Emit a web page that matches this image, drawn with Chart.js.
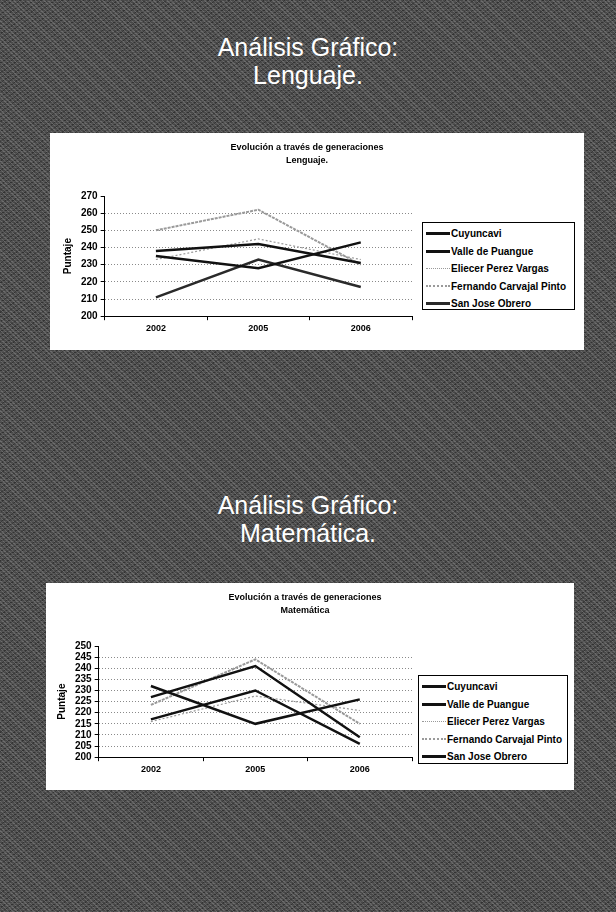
<!DOCTYPE html>
<html>
<head>
<meta charset="utf-8">
<script src="https://cdn.jsdelivr.net/npm/chart.js"></script>
<style>
  html, body { margin: 0; padding: 0; }
  body {
    width: 616px; height: 912px; position: relative; overflow: hidden;
    background-color: #474747;
    background-image:
      repeating-linear-gradient(45deg, rgba(255,255,255,0.14) 0 1px, transparent 1px 3px),
      repeating-linear-gradient(-35deg, rgba(0,0,0,0.3) 0 1px, transparent 1px 4px),
      repeating-linear-gradient(0deg, rgba(255,255,255,0.07) 0 1px, transparent 1px 2px);
  }
  .slideTitle {
    position: absolute; left: 0; width: 616px; text-align: center;
    color: #fff; font-family: "Liberation Sans", Arial, sans-serif;
    font-size: 25px; line-height: 28px;
  }
  .box { position: absolute; background: #fff; }
  .chartTitle {
    position: absolute; text-align: center; color: #000;
    font-family: "Liberation Sans", Arial, sans-serif; font-size: 9px; font-weight: bold;
    line-height: 12.5px;
  }
  .legend {
    position: absolute; border: 1px solid #000; background: #fff;
    font-family: "Liberation Sans", Arial, sans-serif; font-size: 10px; font-weight: bold; color: #000;
    box-sizing: border-box; padding: 2px 0 0 3px;
  }
  .legend .row { height: 17.5px; display: flex; align-items: center; white-space: nowrap; }
  .legend .sample { width: 24px; height: 0; margin-right: 1px; }
</style>
</head>
<body>
<div class="slideTitle" style="top:33px">Análisis Gráfico:<br>Lenguaje.</div>
<div class="box" id="box1" style="left:50px; top:133px; width:534px; height:217px;">
  <canvas id="chart1" width="534" height="217"></canvas>
  <div class="chartTitle" style="left:0; width:514px; top:8px;">Evolución a través de generaciones<br>Lenguaje.</div>
  <div class="legend" id="legend1" style="left:372px; top:89px; width:153px; height:88px;"></div>
</div>

<div class="slideTitle" style="top:491px">Análisis Gráfico:<br>Matemática.</div>
<div class="box" id="box2" style="left:46px; top:583px; width:528px; height:207px;">
  <canvas id="chart2" width="528" height="207"></canvas>
  <div class="chartTitle" style="left:0; width:518px; top:8px;">Evolución a través de generaciones<br>Matemática</div>
  <div class="legend" id="legend2" style="left:372px; top:92px; width:150px; height:89px;"></div>
</div>

<script>
// categories
const years = ["2002", "2005", "2006"];
const schools = ["Cuyuncavi", "Valle de Puangue", "Eliecer Perez Vargas", "Fernando Carvajal Pinto", "San Jose Obrero"];

// Lenguaje
const lengCuyuncavi = [238, 242, 231];
const lengValle = [235, 228, 243];
const lengEliecer = [233, 245, 233];
const lengFernando = [250, 262, 230];
const lengSanJose = [211, 233, 217];

// Matemática
const matCuyuncavi = [227, 241, 209];
const matValle = [232, 215, 226];
const matEliecer = [216, 227.5, 221];
const matFernando = [223.5, 244, 215];
const matSanJose = [217, 230, 206];

const FONT = "'Liberation Sans', Arial, sans-serif";

// line looks per school (Excel style)
function styles(sanJoseColor) {
  return [
    { borderColor: "#111", borderWidth: 2.5, borderDash: [] },
    { borderColor: "#111", borderWidth: 2.5, borderDash: [] },
    { borderColor: "#9a9a9a", borderWidth: 1.2, borderDash: [2, 2] },
    { borderColor: "#9a9a9a", borderWidth: 2, borderDash: [3, 1] },
    { borderColor: sanJoseColor, borderWidth: 2.5, borderDash: [] },
  ];
}

function buildDatasets(series, sanJoseColor) {
  const st = styles(sanJoseColor);
  return series.map((data, i) => ({
    label: schools[i],
    data: data,
    borderColor: st[i].borderColor,
    backgroundColor: st[i].borderColor,
    borderWidth: st[i].borderWidth,
    borderDash: st[i].borderDash,
    pointRadius: 0,
    tension: 0,
    fill: false,
  }));
}

function buildLegend(id, datasets) {
  const el = document.getElementById(id);
  datasets.forEach((ds) => {
    const row = document.createElement("div");
    row.className = "row";
    const s = document.createElement("span");
    s.className = "sample";
    const style = ds.borderDash.length ? "dotted" : "solid";
    s.style.borderTop = Math.max(1, Math.round(ds.borderWidth)) + "px " + style + " " + ds.borderColor;
    row.appendChild(s);
    row.appendChild(document.createTextNode(ds.label));
    el.appendChild(row);
  });
}

function makeChart(canvasId, datasets, yMin, yMax, step, pad) {
  return new Chart(document.getElementById(canvasId), {
    type: "line",
    data: { labels: years, datasets: datasets },
    options: {
      responsive: false,
      animation: false,
      devicePixelRatio: 1,
      layout: { padding: pad },
      plugins: {
        legend: { display: false },
        tooltip: { enabled: false },
        title: { display: false },
      },
      scales: {
        x: {
          offset: true,
          grid: { offset: true, drawOnChartArea: false, tickColor: "#000", tickLength: 4 },
          border: { color: "#000", width: 1 },
          ticks: { color: "#000", font: { family: FONT, size: 9, weight: "bold" }, padding: 3 },
        },
        y: {
          min: yMin,
          max: yMax,
          grid: {
            color: (c) => (c.tick && c.tick.value === yMax ? "rgba(0,0,0,0)" : "#8a8a8a"),
            tickColor: "#000",
            tickLength: 4,
          },
          border: { color: "#000", width: 1, dash: [1, 2] },
          ticks: { stepSize: step, autoSkip: false, color: "#000", font: { family: FONT, size: 10, weight: "bold" }, padding: 3 },
          title: {
            display: true,
            text: "Puntaje",
            color: "#000",
            font: { family: FONT, size: 10, weight: "bold" },
            padding: { top: 0, bottom: 4 },
          },
        },
      },
    },
  });
}

const ds1 = buildDatasets([lengCuyuncavi, lengValle, lengEliecer, lengFernando, lengSanJose], "#2a2a2a");
const ds2 = buildDatasets([matCuyuncavi, matValle, matEliecer, matFernando, matSanJose], "#111");

makeChart("chart1", ds1, 200, 270, 10, { left: 12, right: 172, top: 63, bottom: 13 });
makeChart("chart2", ds2, 200, 250, 5, { left: 10, right: 162, top: 63, bottom: 12 });

buildLegend("legend1", ds1);
buildLegend("legend2", ds2);
</script>
</body>
</html>
